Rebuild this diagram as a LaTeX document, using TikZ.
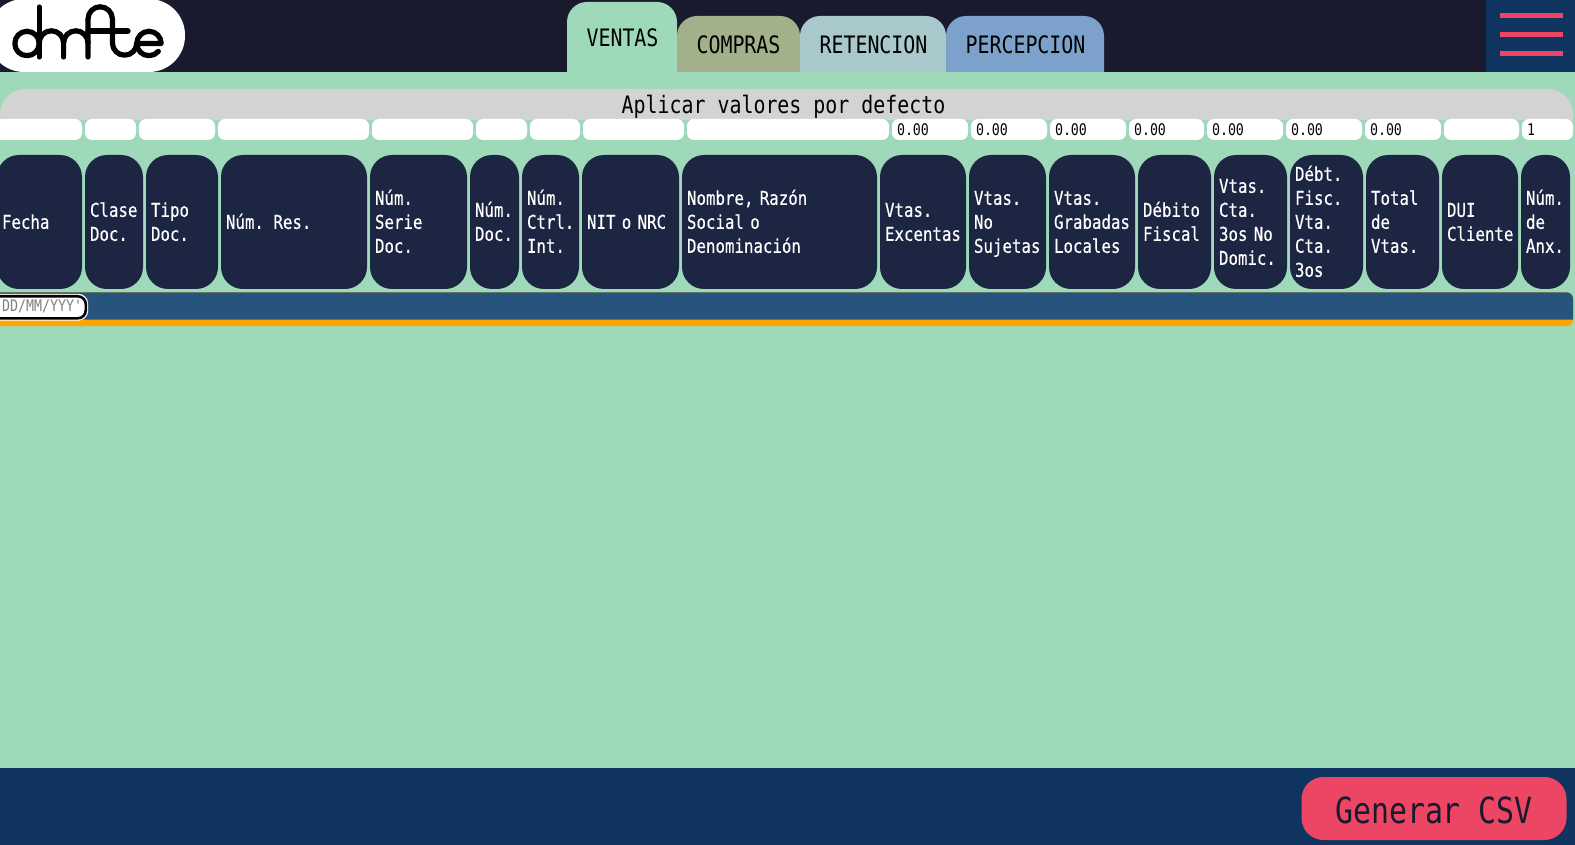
\documentclass[tikz,border=0pt]{standalone}
\usepackage{fontspec}
\setmonofont[FakeStretch=0.83]{DejaVu Sans Mono}
\newfontfamily\headfont[FakeStretch=0.83,FakeBold=0.35]{DejaVu Sans Mono}
\usetikzlibrary{positioning}
\definecolor{mint}{HTML}{9ED9B9}
\definecolor{topbar}{HTML}{1A1A2E}
\definecolor{navy}{HTML}{0F3460}
\definecolor{cellblue}{HTML}{1C2542}
\definecolor{rowblue}{HTML}{26547C}
\definecolor{accent}{HTML}{EC4664}
\definecolor{greybar}{HTML}{D3D3D3}
\definecolor{amber}{HTML}{FFA500}
\definecolor{olivetab}{HTML}{A3B18A}
\definecolor{paletab}{HTML}{A8C8CB}
\definecolor{bluetab}{HTML}{7CA2CB}
\tikzset{
    headcell/.style = {fill=cellblue, text=white, rounded corners=22pt, minimum height=134pt,
        outer sep=0pt, inner xsep=5pt, inner ysep=0pt, text width=#1-10pt, align=left,
        execute at begin node=\rule{0pt}{18.8pt}, execute at end node=\rule[-5.2pt]{0pt}{5.2pt},
        font=\headfont\fontsize{19}{24}\selectfont},
    inbox/.style    = {fill=white, text=black, rounded corners=7pt, minimum height=21pt,
        outer sep=0pt, inner xsep=5pt, inner ysep=0pt, text width=#1-10pt, align=left,
        font=\ttfamily\fontsize{16}{20}\selectfont},
    tabtext/.style  = {text=black, font=\ttfamily\fontsize{24}{28}\selectfont},
    logoline/.style = {draw=black, line width=5.2pt, line cap=round, line join=round},
    menubar/.style  = {fill=accent}
}
\begin{document}
\begin{tikzpicture}[x=1pt, y=-1pt, node distance = 3pt]
    \path[use as bounding box, fill=mint] (0,0) rectangle (1575,845);
    % top bar
    \fill[topbar] (0,0) rectangle (1575,72);
    \fill[navy] (1486,0) rectangle (1575,72);
    \fill[menubar] (1500,13) rectangle (1563,18);
    \fill[menubar] (1500,32) rectangle (1563,37);
    \fill[menubar] (1500,51) rectangle (1563,56);
    % logo
    \fill[white, rounded corners=36pt] (-12,-1) rectangle (185,72);
    \draw[logoline] (27,43.5) circle [radius=12.2pt];
    \draw[logoline] (39.2,7) -- (39.2,57);
    \draw[logoline] (39.2,43) arc [start angle=180, end angle=0, radius=12.2pt] -- (63.6,57);
    \draw[logoline] (63.6,43) arc [start angle=180, end angle=0, radius=12.2pt] -- (88,57);
    \draw[logoline] (88,43) -- (88,19) arc [start angle=180, end angle=0, radius=12.2pt]
        -- (112.4,43) arc [start angle=180, end angle=360, radius=12.2pt];
    \draw[logoline] (88,31) -- (128,31);
    \draw[logoline] (136.8,43.5) -- (161.2,43.5) arc [start angle=0, end angle=180, radius=12.2pt]
        arc [start angle=180, end angle=320, radius=12.2pt];
    % tabs
    \fill[mint] (567,73) [rounded corners=20pt] -- (567,2) -- (677,2) [sharp corners] -- (677,73) -- cycle;
    \fill[olivetab] (677,72) [rounded corners=20pt] -- (677,16) -- (800,16) [sharp corners] -- (800,72) -- cycle;
    \fill[paletab] (800,72) [rounded corners=20pt] -- (800,16) -- (946,16) [sharp corners] -- (946,72) -- cycle;
    \fill[bluetab] (946,72) [rounded corners=20pt] -- (946,16) -- (1104,16) [sharp corners] -- (1104,72) -- cycle;
    \node[tabtext] (ventas)     at (622.5,38) {VENTAS};
    \node[tabtext] (compras)    at (738.5,45) {COMPRAS};
    \node[tabtext] (retencion)  at (873.5,45) {RETENCION};
    \node[tabtext] (percepcion) at (1025.5,45) {PERCEPCION};
    % defaults bar
    \fill[greybar] (0,120) [rounded corners=25pt] -- (0,89) -- (1573,89) [sharp corners] -- (1573,120) -- cycle;
    \node[tabtext] (aplicar) at (783.5,107) {Aplicar valores por defecto};
    % default inputs
    \node[inbox=87pt, anchor=north west] (inA) at (-5,119) {};
    \node[inbox=51pt, right=of inA]  (inB) {};
    \node[inbox=76pt, right=of inB]  (inC) {};
    \node[inbox=151pt, right=of inC] (inD) {};
    \node[inbox=101pt, right=of inD] (inE) {};
    \node[inbox=51pt, right=of inE]  (inF) {};
    \node[inbox=50pt, right=of inF]  (inG) {};
    \node[inbox=101pt, right=of inG] (inH) {};
    \node[inbox=202pt, right=of inH] (inI) {};
    \node[inbox=76pt, right=of inI]  (inJ) {0.00};
    \node[inbox=76pt, right=of inJ]  (inK) {0.00};
    \node[inbox=76pt, right=of inK]  (inL) {0.00};
    \node[inbox=75pt, right=of inL]  (inM) {0.00};
    \node[inbox=76pt, right=of inM]  (inN) {0.00};
    \node[inbox=76pt, right=of inN]  (inO) {0.00};
    \node[inbox=76pt, right=of inO]  (inP) {0.00};
    \node[inbox=75pt, right=of inP]  (inQ) {};
    \node[inbox=51pt, right=of inQ]  (inR) {1};
    % table head
    \node[headcell=85pt, anchor=north west] (fecha) at (-3,155) {Fecha};
    \node[headcell=58pt, right=of fecha]   (clase)   {Clase\\Doc.};
    \node[headcell=72pt, right=of clase]   (tipo)    {Tipo\\Doc.};
    \node[headcell=146pt, right=of tipo]   (numres)  {Núm. Res.};
    \node[headcell=97pt, right=of numres]  (serie)   {Núm.\\Serie\\Doc.};
    \node[headcell=49pt, right=of serie]   (numdoc)  {Núm.\\Doc.};
    \node[headcell=57pt, right=of numdoc]  (ctrl)    {Núm.\\Ctrl.\\Int.};
    \node[headcell=97pt, right=of ctrl]    (nit)     {NIT o NRC};
    \node[headcell=195pt, right=of nit]    (nombre)  {Nombre, Razón\\Social o\\Denominación};
    \node[headcell=86pt, right=of nombre]  (excent)  {Vtas.\\Excentas};
    \node[headcell=77pt, right=of excent]  (sujetas) {Vtas.\\No\\Sujetas};
    \node[headcell=86pt, right=of sujetas] (grabad)  {Vtas.\\Grabadas\\Locales};
    \node[headcell=73pt, right=of grabad]  (debito)  {Débito\\Fiscal};
    \node[headcell=73pt, right=of debito]  (terceros) {Vtas.\\Cta.\\3os No\\Domic.};
    \node[headcell=73pt, right=of terceros] (debt)   {Débt.\\Fisc.\\Vta.\\Cta.\\3os};
    \node[headcell=73pt, right=of debt]    (total)   {Total\\de\\Vtas.};
    \node[headcell=76pt, right=of total]   (dui)     {DUI\\Cliente};
    \node[headcell=49pt, right=of dui]     (anexo)   {Núm.\\de\\Anx.};
    % first row
    \fill[amber, rounded corners=6pt] (-10,292.5) rectangle (1573,326);
    \fill[rowblue] (-10,319.5) [rounded corners=6pt] -- (-10,292.5) -- (1573,292.5) [sharp corners] -- (1573,319.5) -- cycle;
    \draw[white, line width=1.2pt, fill=white, rounded corners=9pt] (-8,294.5) rectangle (87.5,320);
    \draw[black, line width=2.6pt, rounded corners=8pt] (-8,296.3) rectangle (85.8,318.3);
    \node[anchor=west, inner sep=0pt, text=gray, font=\ttfamily\fontsize{16}{20}\selectfont] (fechain) at (2,306) {DD/MM/YYY'};
    % footer
    \fill[navy] (0,768) rectangle (1575,845);
    \node[fill=accent, rounded corners=22pt, minimum width=265pt, minimum height=63pt, text=topbar,
        font=\ttfamily\fontsize{36}{40}\selectfont] (generar) at (1434,808.5) {\rule{0pt}{29.6pt}Generar CSV};
\end{tikzpicture}
\end{document}
